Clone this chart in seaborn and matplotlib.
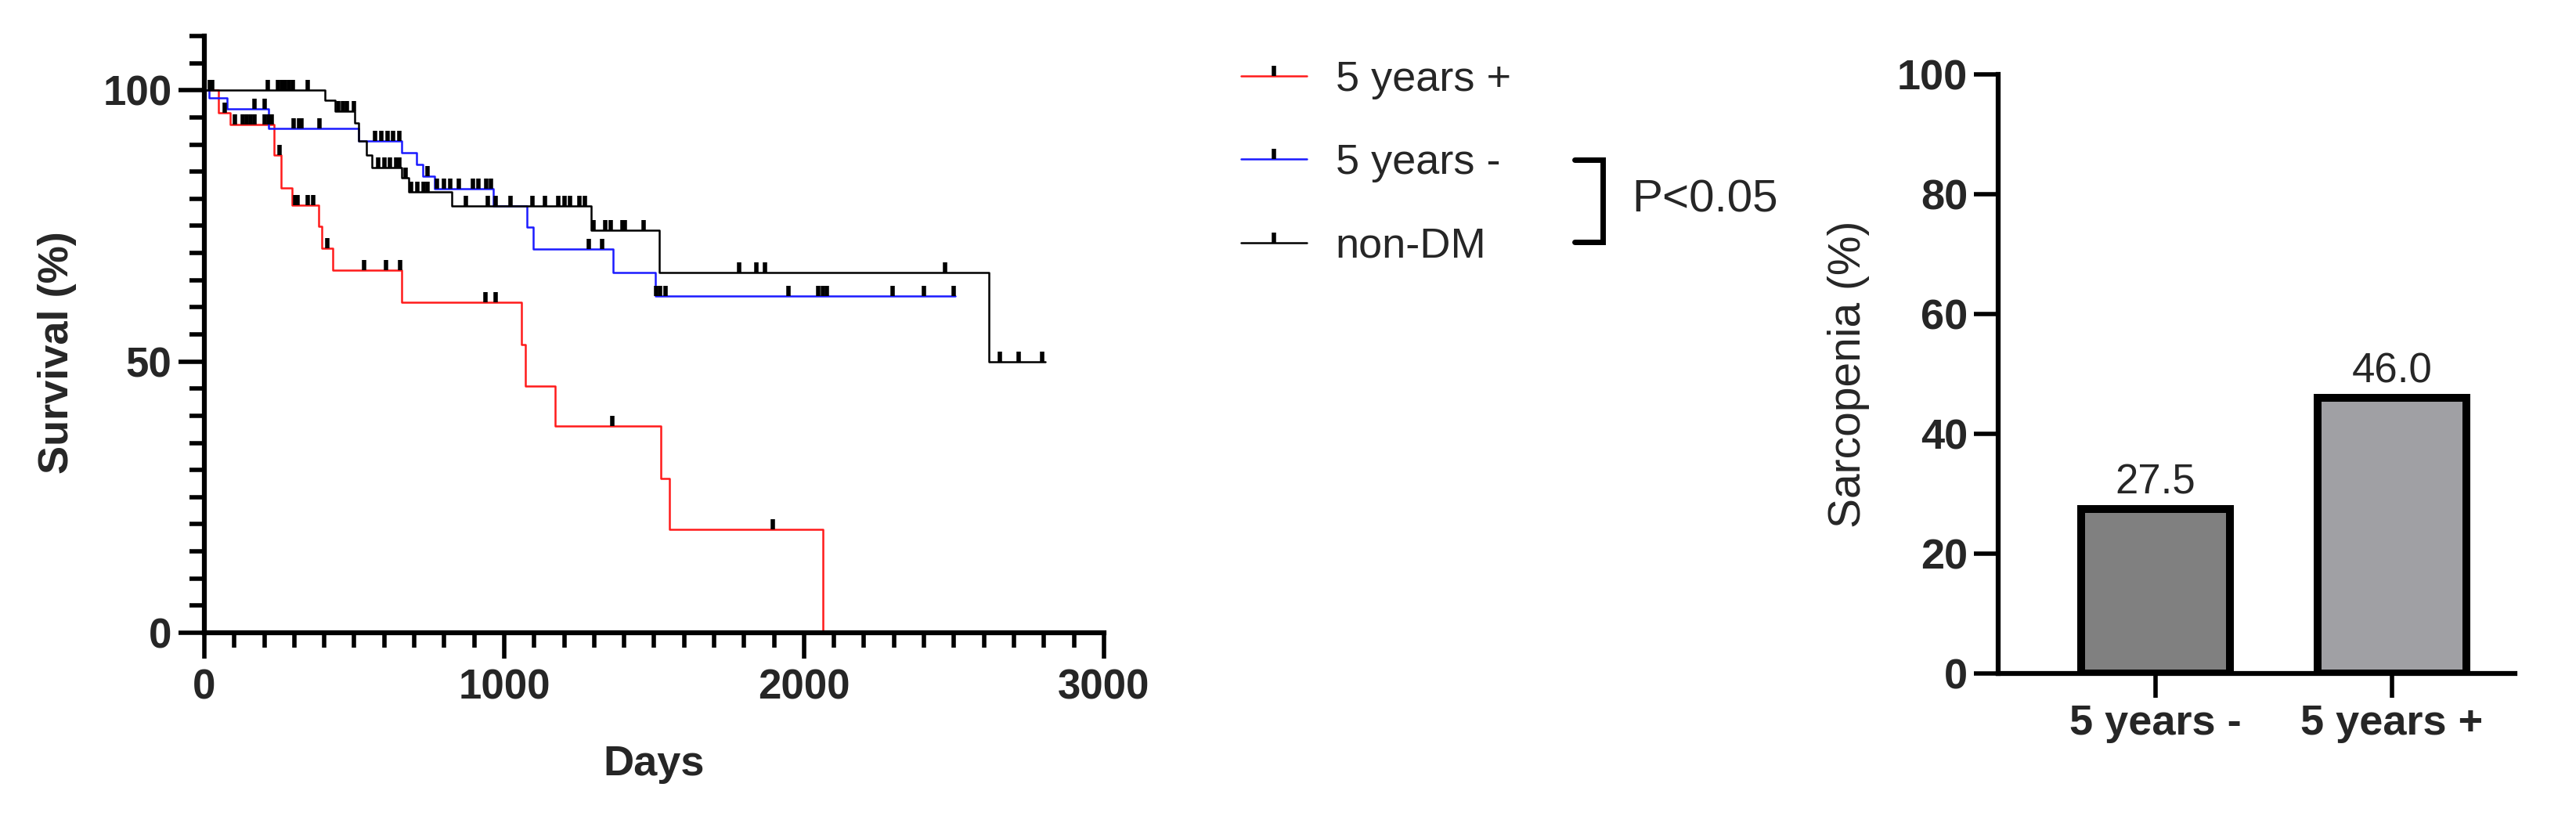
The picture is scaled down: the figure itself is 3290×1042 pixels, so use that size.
import numpy as np
import pandas as pd
import matplotlib
matplotlib.use('Agg')
import matplotlib.pyplot as plt
from matplotlib.lines import Line2D
from matplotlib.ticker import MultipleLocator
import seaborn as sns

# Kaplan-Meier Kurven (Zeitpunkt der Stufe, Überleben danach in %)
groups = ['5 years +', '5 years -', 'non-DM']
colors = ['#ff1a1a', '#1a1aff', '#000000']

plus_days = [0, 48, 87, 232, 257, 293, 380, 393, 428, 659, 1057, 1070, 1171, 1522, 1551, 2064]
plus_surv = [100, 95.9, 93.7, 88.0, 82.0, 78.8, 74.9, 70.9, 66.8, 60.9, 53.1, 45.5, 38.1, 28.5, 19.0, 0]
plus_cens = [67, 102, 128, 141, 154, 167, 202, 215, 224, 250, 302, 311, 346, 363, 411,
             533, 607, 654, 937, 972, 1361, 1895]

minus_days = [0, 17, 76, 215, 515, 659, 707, 728, 768, 963, 1077, 1098, 1364, 1505, 2504]
minus_surv = [100, 98.6, 96.6, 92.9, 90.7, 88.5, 86.3, 84.1, 81.9, 78.6, 74.7, 70.8, 66.4, 62.0, 62.0]
minus_cens = [167, 202, 298, 315, 324, 385, 570, 590, 610, 630, 650, 745, 775, 800, 820, 850,
              895, 915, 940, 955, 1281, 1327, 1507, 1520, 1538, 1947, 2047, 2064, 2077,
              2295, 2399, 2498]

nondm_days = [0, 402, 437, 502, 515, 541, 559, 659, 681, 824, 1290, 1518, 2617, 2804]
nondm_surv = [100, 98.1, 96.2, 94.0, 90.6, 88.0, 85.8, 83.9, 81.2, 78.6, 74.2, 66.4, 50.0, 50.0]
nondm_cens = [19, 25, 211, 245, 258, 270, 283, 296, 346, 446, 463, 476, 498, 580, 600, 620,
              640, 650, 670, 690, 710, 730, 745, 872, 946, 972, 1020, 1094, 1137, 1181,
              1200, 1220, 1251, 1270, 1298, 1338, 1355, 1394, 1403, 1464, 1783, 1842,
              1869, 2469, 2652, 2717, 2795]

# Balkendiagramm Sarkopenie
bar_groups = ['5 years -', '5 years +']
bar_values = [27.5, 46.0]
bar_colors = ['#808080', '#a0a0a4']

sns.set_theme(style='ticks')
plt.rcParams['font.family'] = ['Liberation Sans', 'DejaVu Sans']

curves = {
    '5 years +': (plus_days, plus_surv, plus_cens),
    '5 years -': (minus_days, minus_surv, minus_cens),
    'non-DM': (nondm_days, nondm_surv, nondm_cens),
}

frames = []
for g in groups:
    d, s, _ = curves[g]
    frames.append(pd.DataFrame({'days': d, 'surv': s, 'group': g}))
km = pd.concat(frames, ignore_index=True)

fig = plt.figure(figsize=(32.91, 10.42), dpi=100)
ax1 = fig.add_axes([0.0793, 0.2246, 0.3491, 0.7313])
ax2 = fig.add_axes([0.7755, 0.1747, 0.2005, 0.7342])

spine_w = 4.5
tick_w = 4.0

# --- Kaplan-Meier ---
sns.lineplot(data=km, x='days', y='surv', hue='group', hue_order=groups,
             palette=dict(zip(groups, colors)), estimator=None, sort=False,
             drawstyle='steps-post', linewidth=1.8, legend=False, ax=ax1)

for g in groups:
    d, s, c = curves[g]
    idx = np.searchsorted(d, c, side='right') - 1
    ax1.plot(c, np.asarray(s)[idx], ls='none', marker=2, ms=9.5, mew=4,
             color='black', zorder=5, clip_on=False)

ax1.set_xlim(0, 3000)
ax1.set_ylim(0, 110)
ax1.xaxis.set_major_locator(MultipleLocator(1000))
ax1.xaxis.set_minor_locator(MultipleLocator(100))
ax1.yaxis.set_minor_locator(MultipleLocator(5))
ax1.set_yticks([0, 50, 100])
sns.despine(ax=ax1)
for sp in ['left', 'bottom']:
    ax1.spines[sp].set_linewidth(spine_w)
    ax1.spines[sp].set_color('black')
ax1.tick_params(which='major', length=24, width=tick_w, color='black', labelsize=38, pad=6)
ax1.tick_params(axis='x', which='major', pad=9)
ax1.tick_params(which='minor', length=14, width=tick_w, color='black')
for lab in ax1.get_xticklabels() + ax1.get_yticklabels():
    lab.set_fontweight('bold')
ax1.set_xlabel('Days', fontsize=39, fontweight='bold')
ax1.set_ylabel('Survival (%)', fontsize=39, fontweight='bold')
ax1.xaxis.label.set_verticalalignment('center')
ax1.yaxis.label.set_verticalalignment('center')
ax1.xaxis.set_label_coords(0.5, -0.22)
ax1.yaxis.set_label_coords(-0.1636, 0.47)

# Legende
handles = [Line2D([], [], color=c, lw=1.8, marker=2, ms=9.5, mew=4,
                  markeredgecolor='black') for c in colors]
fig.legend(handles, groups, loc='upper left', bbox_to_anchor=(0.4816, 0.926),
           frameon=False, fontsize=39, handlelength=1.55, handletextpad=0.68,
           labelspacing=1.04, borderpad=0, borderaxespad=0)

# Klammer und P-Wert
bx0, bx1 = 2011 / 3291, 2047 / 3291
by0, by1 = 1 - 204 / 1042, 1 - 309 / 1042
fig.add_artist(Line2D([bx0, bx1, bx1, bx0], [by0, by0, by1, by1], color='black',
                      lw=5, transform=fig.transFigure, solid_joinstyle='miter'))
fig.text(2084 / 3291, 1 - 256 / 1042, 'P<0.05', fontsize=42, ha='left', va='center')

# --- Balken ---
sns.barplot(x=bar_groups, y=bar_values, hue=bar_groups, palette=bar_colors,
            saturation=1, width=0.63, edgecolor='black', linewidth=7.2,
            legend=False, ax=ax2)
for cont in ax2.containers:
    ax2.bar_label(cont, fmt='%.1f', padding=6, fontsize=38)

ax2.set_xlim(-0.666, 1.52)
ax2.set_ylim(0, 100)
ax2.set_yticks(np.arange(0, 101, 20))
sns.despine(ax=ax2)
for sp in ['left', 'bottom']:
    ax2.spines[sp].set_linewidth(spine_w)
    ax2.spines[sp].set_color('black')
ax2.tick_params(which='major', length=22, width=tick_w, color='black', labelsize=39, pad=6)
for lab in ax2.get_xticklabels() + ax2.get_yticklabels():
    lab.set_fontweight('bold')
ax2.set_xlabel('')
ax2.set_ylabel('Sarcopenia (%)', fontsize=41)
ax2.yaxis.label.set_verticalalignment('center')
ax2.yaxis.set_label_coords(-0.289, 0.5)

fig.savefig('out.png', dpi=100, facecolor='white')
